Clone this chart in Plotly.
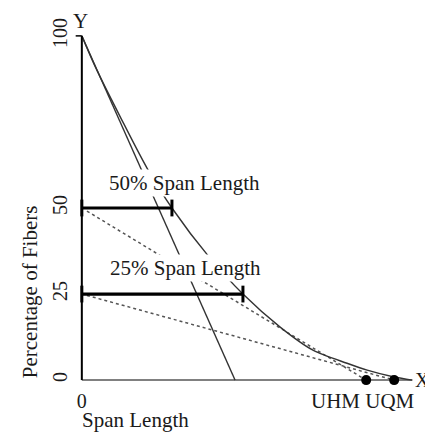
import plotly.graph_objects as go

# Fibrogram curve (span length vs percentage of fibers)
curve_x = [0, 4.1, 11.4, 19.1, 26.4, 37.5, 47.2, 58.1, 67.7, 77.7, 83.6, 91.5, 96.8]
curve_y = [100, 90.7, 76.2, 61.6, 50.0, 35.5, 25.0, 15.4, 8.7, 4.9, 2.9, 0.9, 0]

tangent_x = [0, 44.9]
tangent_y = [100, 0]

span50_x = [0, 26.4]
span50_y = [50, 50]
span25_x = [0, 47.2]
span25_y = [25, 25]

uhm_x = 83.3
uqm_x = 91.5
dot1_x = [1.5, uhm_x]
dot1_y = [49.1, 0]
dot2_x = [1.5, uqm_x]
dot2_y = [24.6, 0]

y_ticks = [0, 25, 50, 100]
y_tick_text = ["0", "25", "50", "100"]
x_ticks = [0]
x_tick_text = ["0"]

FONT = "Liberation Serif"
TXT = "#1a1a1a"

fig = go.Figure()

# dotted tangent lines
fig.add_trace(go.Scatter(x=dot1_x, y=dot1_y, mode="lines",
                         line=dict(color="#555555", width=1.5, dash="dot"), hoverinfo="skip"))
fig.add_trace(go.Scatter(x=dot2_x, y=dot2_y, mode="lines",
                         line=dict(color="#555555", width=1.5, dash="dot"), hoverinfo="skip"))
# tangent at top
fig.add_trace(go.Scatter(x=tangent_x, y=tangent_y, mode="lines",
                         line=dict(color="#333333", width=1.3), hoverinfo="skip"))
# fibrogram curve
fig.add_trace(go.Scatter(x=curve_x, y=curve_y, mode="lines",
                         line=dict(color="#333333", width=1.4, shape="spline", smoothing=0.8),
                         hoverinfo="skip"))
# span length bars
for bx, by in [(span50_x, span50_y), (span25_x, span25_y)]:
    fig.add_trace(go.Scatter(x=bx, y=by, mode="lines+markers",
                             line=dict(color="black", width=3.2),
                             marker=dict(symbol="line-ns", size=12,
                                         line=dict(color="black", width=3)),
                             cliponaxis=False, hoverinfo="skip"))
# UHM / UQM points
fig.add_trace(go.Scatter(x=[uhm_x, uqm_x], y=[0, 0], mode="markers",
                         marker=dict(color="black", size=10), cliponaxis=False,
                         hoverinfo="skip"))

# axes lines
fig.add_shape(type="line", xref="x", yref="y", x0=0, y0=0, x1=96.8, y1=0,
              line=dict(color="#808080", width=2), layer="below")
fig.add_shape(type="line", xref="x", yref="y", x0=0, y0=0, x1=0, y1=100,
              line=dict(color="black", width=2))
fig.add_shape(type="line", xref="x", yref="y", x0=-1.8, y0=100, x1=0, y1=100,
              line=dict(color="black", width=1.5))

fig.add_annotation(x=30.2, y=57.2, xref="x", yref="y", text="50% Span Length",
                   showarrow=False, bgcolor="white", borderpad=1,
                   font=dict(family=FONT, size=21, color=TXT))
fig.add_annotation(x=30.5, y=32.5, xref="x", yref="y", text="25% Span Length",
                   showarrow=False, bgcolor="white", borderpad=1,
                   font=dict(family=FONT, size=21, color=TXT))
fig.add_annotation(x=0.0169, y=1.022, xref="paper", yref="paper", text="Y",
                   showarrow=False, xanchor="center", yanchor="middle",
                   font=dict(family=FONT, size=21, color=TXT))
fig.add_annotation(x=1.0056, y=0.0196, xref="paper", yref="paper", text="X",
                   showarrow=False, xanchor="right", yanchor="middle",
                   font=dict(family=FONT, size=20, color=TXT))
fig.add_annotation(x=0.811, y=-0.039, xref="paper", yref="paper", text="UHM UQM",
                   showarrow=False, xanchor="center", yanchor="middle",
                   font=dict(family=FONT, size=21, color=TXT))
fig.add_annotation(x=0.0141, y=-0.092, xref="paper", yref="paper", text="Span Length",
                   showarrow=False, xanchor="left", yanchor="middle",
                   font=dict(family=FONT, size=21, color=TXT))
fig.add_annotation(x=-0.127, y=25.8, xref="paper", yref="y", text="Percentage of Fibers",
                   showarrow=False, textangle=-90, xanchor="center", yanchor="middle",
                   font=dict(family=FONT, size=21, color=TXT))

fig.update_layout(
    width=433, height=434,
    margin=dict(l=67, r=11, t=21, b=55, autoexpand=False),
    paper_bgcolor="white", plot_bgcolor="white",
    showlegend=False,
    font=dict(family=FONT, size=20, color=TXT),
    xaxis=dict(range=[-2, 102], showgrid=False, zeroline=False, showline=False,
               automargin=False,
               tickvals=x_ticks, ticktext=x_tick_text, ticks="",
               tickfont=dict(family=FONT, size=20, color=TXT)),
    yaxis=dict(range=[-2, 102], showgrid=False, zeroline=False, showline=False,
               automargin=False, ticklabelstandoff=3,
               tickvals=y_ticks, ticktext=y_tick_text, ticks="", tickangle=-90,
               tickfont=dict(family=FONT, size=20, color=TXT)),
)

fig.write_html("out.html")
